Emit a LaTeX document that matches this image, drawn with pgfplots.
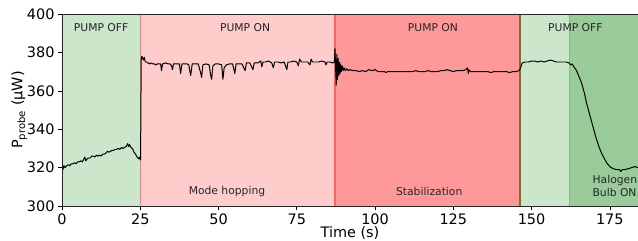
\documentclass[border=0pt]{standalone}
\usepackage{fontspec}
\setmainfont{DejaVu Sans}
\usepackage{pgfplots}
\pgfplotsset{compat=1.18}
\definecolor{lgreen}{HTML}{CCE6CC}
\definecolor{dgreen}{HTML}{99CC99}
\definecolor{lred}{HTML}{FFCCCC}
\definecolor{dred}{HTML}{FF9999}
\begin{document}
\begin{tikzpicture}
\begin{axis}[name=ax,
  scale only axis, width=576bp, height=192bp,
  xmin=0, xmax=184, ymin=300, ymax=400,
  xtick={0,25,50,75,100,125,150,175},
  ytick={300,320,340,360,380,400},
  tick align=outside, major tick length=4bp,
  tick style={black, line width=0.6pt},
  xtick pos=bottom, ytick pos=left,
  axis line style={line width=0.9pt, black!85},
  /pgf/number format/assume math mode=true,
  ticklabel style={font=\fontsize{14.5}{16}\selectfont},
  label style={font=\fontsize{14.5}{16}\selectfont},
  xlabel={Time (s)},
  ylabel={P\textsubscript{probe} (µW)},
  x label style={at={(axis description cs:0.5,-0.163)},anchor=base, inner sep=0pt},
  y label style={at={(axis description cs:-0.074,0.5)},anchor=center},
  axis on top,
  clip=true,
]
\addplot[fill=lgreen, draw=none] coordinates {(0,300)(25,300)(25,400)(0,400)} \closedcycle;
\addplot[fill=lred, draw=none] coordinates {(25,300)(87.2,300)(87.2,400)(25,400)} \closedcycle;
\addplot[fill=dred, draw=none] coordinates {(87.2,300)(146.3,300)(146.3,400)(87.2,400)} \closedcycle;
\addplot[fill=lgreen, draw=none] coordinates {(146.3,300)(162.2,300)(162.2,400)(146.3,400)} \closedcycle;
\addplot[fill=dgreen, draw=none] coordinates {(162.2,300)(184,300)(184,400)(162.2,400)} \closedcycle;
\addplot[color={rgb,255:red,240;green,128;blue,128}, line width=1.2pt] coordinates {(25,300)(25,400)};
\addplot[color={rgb,255:red,255;green,96;blue,96}, line width=1.2pt] coordinates {(87.2,300)(87.2,400)};
\addplot[color={rgb,255:red,150;green,100;blue,45}, line width=1.1pt] coordinates {(146.3,300)(146.3,400)};
\addplot[color={rgb,255:red,128;green,190;blue,128}, line width=0.8pt] coordinates {(162.2,300)(162.2,400)};
\addplot[black, line width=1pt, line join=round] coordinates {
(0,320.5)(0.3,319)(0.6,321)(1,320)(1.5,321)(2,321.5)(2.5,321)(3,322)(3.5,322)(4,322.5)(4.5,322)(5,323)(5.5,323)(6,323.5)(6.5,323)(7,324.5)(7.3,325.5)(7.6,323.5)(8,324.5)(8.5,325)(9,325)(9.5,326)(10,326)(10.5,325.5)(11,326.5)(11.5,326)(12,326.5)(12.5,326)(13,327)(13.5,327)(14,327.5)(14.5,328.5)(15,328)(15.5,328.5)(16,329)(16.5,329)(17,329.5)(17.5,329.5)(18,330)(18.5,329.5)(19,330.5)(19.5,330)(20,330.5)(20.5,331)(21,332.5)(21.3,331)(21.6,332)(22,330.5)(22.5,330)(23,328)(23.5,327)(24,325.5)(24.5,324.5)(24.8,325.5)(25.1,324)
(25.3,376)(25.5,378)(25.8,377)(26,376)(26.3,377.5)(26.6,375)(27,375)(27.5,374.5)(28,374)(28.5,374.5)(29,374)(29.5,374)(30,373.5)(30.5,374)(31,374)(31.5,374)(31.8,370.5)(32.1,374)(33,374.5)(34,374)(34.5,374)(35,373)(35.3,371)(35.6,374)(36.5,374)(37.5,374)(37.9,369)(38.3,374)(39,374)(40,374)(40.5,373.5)(41.1,368)(41.6,374)(42.5,374)(43.5,374)(44.2,370)(44.6,367)(45,373.5)(46,374)(47,373.5)(47.5,368)(47.8,366)(48.2,373)(49,374)(50,374)(51,373.5)(51.4,366)(51.8,372)(52.5,373.5)(53.5,374)(54.5,374)(55.2,369)(55.6,374)(56.5,374)(57.5,374)(58.5,370.5)(58.9,374.5)(60,374.5)(61,371)(61.4,374.5)(62.5,374.5)(63.5,375.5)(63.8,372.5)(64.2,375)(65,375)(66,375.5)(67,374.5)(67.5,372)(67.9,375)(69,375)(70,374.5)(71,375)(71.8,371)(72.2,375)(73,375)(74,375.5)(75,375)(75.5,373)(75.9,376.5)(76.5,375)(77.5,375)(78.5,375)(79.2,373.5)(79.6,376.5)(80,375)(81,375)(82,375)(83,375.5)(84,375)(84.3,373.5)(84.7,375)(85.5,375)(86.5,374.5)(87,375)
(87.2,382)(87.4,372)(87.6,363)(87.8,379)(88,366)(88.2,377)(88.4,368)(88.6,375)(88.8,369)(89,374)(89.2,370)(89.5,373)(89.8,370.5)(90.1,372)(90.5,370.5)(91,371.5)(91.5,370.5)(92,371)(93,370.5)(94,370.5)(95,370)(96,370.5)(97,370)(98,371)(99,370.5)(100,371)(101,370)(102,370)(103,370)(103.5,369.5)(104,370)(106,370)(108,370)(110,370)(112,370)(113,370.5)(114,370)(116,370)(117,370.5)(118,370)(120,370)(121,370.5)(122,370.5)(123,371)(124,370.5)(125,370)(126,370.5)(127,370.5)(128,370.5)(129,371)(129.5,372)(129.8,369)(130,371)(130.5,370)(132,370)(134,370)(136,370)(137,369.5)(138,370)(140,370)(142,370)(143,369.5)(144,370)(145,370)(146,370.5)
(146.5,372)(147,374.5)(148,375)(149,375)(150,375.5)(151,375.5)(152,375)(153,375.5)(154,375)(155,375.5)(156,376)(157,375.5)(158,375)(159,375)(160,375)(161,375)(162,374.5)(162.5,373.5)(163,374)(163.5,372.5)(164,371.5)(164.5,370)(165,368)(165.5,366)(166,364)(166.5,361)(167,358)(167.5,354)(168,351)(168.5,348)(169,345)(169.5,342)(170,339)(170.5,336)(171,333.5)(171.5,331)(172,329)(172.5,327)(173,325.5)(173.5,324)(174,322.5)(174.5,321.5)(175,320.5)(175.5,320)(176,319.5)(177,319)(178,319)(178.5,318)(179,319)(180,319)(181,319.5)(182,320)(183,320.5)(184,320)
};
\begin{scope}[every node/.style={font=\fontsize{10.8}{12}\selectfont, text=black!85}]
\node at (axis cs:12.5,392.7) {PUMP OFF};
\node at (axis cs:58.5,392.7) {PUMP ON};
\node at (axis cs:118.5,392.7) {PUMP ON};
\node at (axis cs:164,392.7) {PUMP OFF};
\node at (axis cs:52.7,307.3) {Mode hopping};
\node at (axis cs:117.3,307.3) {Stabilization};
\node[align=left, inner sep=0pt, font=\fontsize{10.8}{12.5}\selectfont] at (axis cs:176.6,310.4) {Halogen\\Bulb ON};
\end{scope}
\end{axis}
\pgfresetboundingbox
\path ([xshift=-62bp,yshift=-35bp]ax.south west) rectangle ([yshift=14bp]ax.north east);
\end{tikzpicture}
\end{document}
